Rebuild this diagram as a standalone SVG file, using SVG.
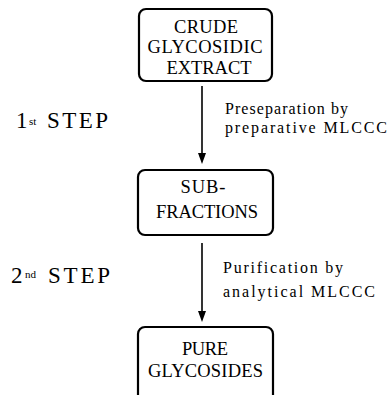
<svg xmlns="http://www.w3.org/2000/svg" width="389" height="395" viewBox="0 0 389 395">
<style>
.box{fill:#fff;stroke:#000;stroke-width:2.2}
.bt{font-size:18.5px;text-anchor:middle}
.lab{font-size:16px}
.step{font-size:23px}
.sup{font-size:11px}
.conn{stroke:#000;stroke-width:1.6;fill:none}
.head{fill:#000}
</style>
<g id="connectors">
<line class="conn" x1="202" y1="86" x2="202" y2="154"/>
<path class="head" d="M198,153 L202,164 L206,153 Z"/>
<line class="conn" x1="202" y1="243" x2="202" y2="312"/>
<path class="head" d="M198,311 L202,322 L206,311 Z"/>
</g>
<g font-family="Liberation Serif, Times New Roman, serif" fill="#000">
<g id="node-crude">
<rect class="box" x="139" y="9" width="133" height="72" rx="7"/>
<text class="bt" x="206" y="33" textLength="64" lengthAdjust="spacing">CRUDE</text>
<text class="bt" x="205" y="53" textLength="115" lengthAdjust="spacing">GLYCOSIDIC</text>
<text class="bt" x="209" y="74" textLength="85" lengthAdjust="spacing">EXTRACT</text>
</g>
<g id="node-sub">
<rect class="box" x="138" y="170" width="135" height="65" rx="7"/>
<text class="bt" x="203" y="193" textLength="45" lengthAdjust="spacing">SUB-</text>
<text class="bt" x="207" y="218" textLength="102" lengthAdjust="spacing">FRACTIONS</text>
</g>
<g id="node-pure">
<rect class="box" x="138" y="327" width="135" height="75" rx="7"/>
<text class="bt" x="205" y="355" textLength="46" lengthAdjust="spacing">PURE</text>
<text class="bt" x="205.5" y="377" textLength="115" lengthAdjust="spacing">GLYCOSIDES</text>
</g>
<g id="label-step1">
<text class="step" x="16" y="128">1</text>
<text class="sup" x="29" y="125">st</text>
<text class="step" x="47" y="128" textLength="61" lengthAdjust="spacing">STEP</text>
</g>
<g id="label-step2">
<text class="step" x="11" y="283">2</text>
<text class="sup" x="25" y="278">nd</text>
<text class="step" x="48" y="283" textLength="62" lengthAdjust="spacing">STEP</text>
</g>
<g id="label-pre">
<text class="lab" x="225" y="114" textLength="123" lengthAdjust="spacing">Preseparation  by</text>
<text class="lab" x="225" y="133" textLength="162" lengthAdjust="spacing">preparative  MLCCC</text>
</g>
<g id="label-pur">
<text class="lab" x="223" y="273" textLength="120" lengthAdjust="spacing">Purification  by</text>
<text class="lab" x="223" y="297" textLength="152" lengthAdjust="spacing">analytical  MLCCC</text>
</g>
</g>
</svg>
